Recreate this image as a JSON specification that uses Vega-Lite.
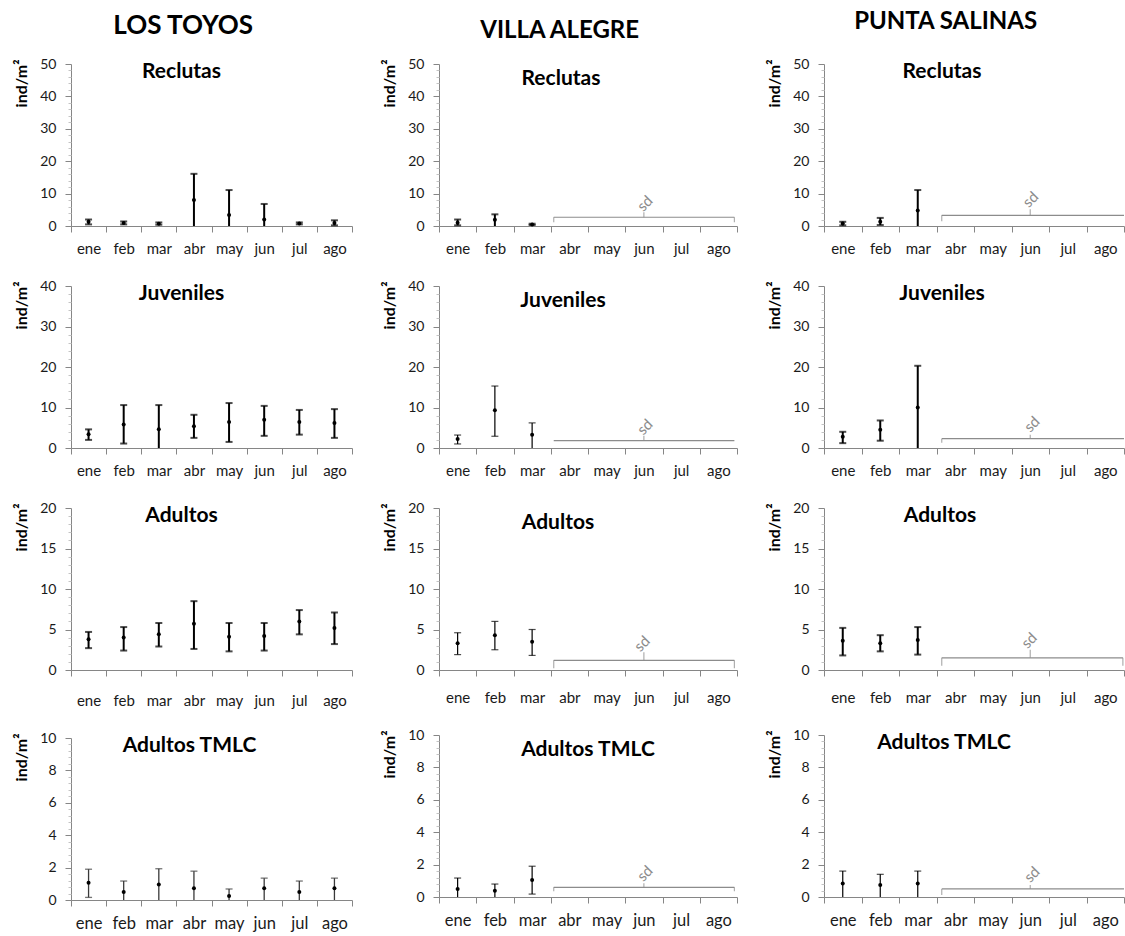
{
  "$schema": "https://vega.github.io/schema/vega-lite/v6.json",
  "background": "white",
  "padding": {"left": 13, "top": 10, "right": 0, "bottom": 0},
  "spacing": 28,
  "datasets": {
    "obs": [
      {"site": "Los Toyos", "stage": "Reclutas", "month": "ene", "mean": 1.3, "lo": 0.5, "hi": 2.0},
      {"site": "Los Toyos", "stage": "Reclutas", "month": "feb", "mean": 0.9, "lo": 0.5, "hi": 1.4},
      {"site": "Los Toyos", "stage": "Reclutas", "month": "mar", "mean": 0.7, "lo": 0.4, "hi": 1.1},
      {"site": "Los Toyos", "stage": "Reclutas", "month": "abr", "mean": 8.0, "lo": 0, "hi": 16.1},
      {"site": "Los Toyos", "stage": "Reclutas", "month": "may", "mean": 3.4, "lo": 0, "hi": 11.1},
      {"site": "Los Toyos", "stage": "Reclutas", "month": "jun", "mean": 2.0, "lo": 0, "hi": 6.8},
      {"site": "Los Toyos", "stage": "Reclutas", "month": "jul", "mean": 0.8, "lo": 0.5, "hi": 1.1},
      {"site": "Los Toyos", "stage": "Reclutas", "month": "ago", "mean": 0.9, "lo": 0.2, "hi": 1.75},
      {"site": "Los Toyos", "stage": "Juveniles", "month": "ene", "mean": 3.4, "lo": 2.0, "hi": 4.6},
      {"site": "Los Toyos", "stage": "Juveniles", "month": "feb", "mean": 5.8, "lo": 1.1, "hi": 10.6},
      {"site": "Los Toyos", "stage": "Juveniles", "month": "mar", "mean": 4.6, "lo": 0, "hi": 10.6},
      {"site": "Los Toyos", "stage": "Juveniles", "month": "abr", "mean": 5.4, "lo": 2.5, "hi": 8.2},
      {"site": "Los Toyos", "stage": "Juveniles", "month": "may", "mean": 6.4, "lo": 1.5, "hi": 11.1},
      {"site": "Los Toyos", "stage": "Juveniles", "month": "jun", "mean": 7.0, "lo": 3.0, "hi": 10.4},
      {"site": "Los Toyos", "stage": "Juveniles", "month": "jul", "mean": 6.4, "lo": 3.3, "hi": 9.4},
      {"site": "Los Toyos", "stage": "Juveniles", "month": "ago", "mean": 6.2, "lo": 2.5, "hi": 9.6},
      {"site": "Los Toyos", "stage": "Adultos", "month": "ene", "mean": 3.8, "lo": 2.7, "hi": 4.7},
      {"site": "Los Toyos", "stage": "Adultos", "month": "feb", "mean": 4.0, "lo": 2.4, "hi": 5.3},
      {"site": "Los Toyos", "stage": "Adultos", "month": "mar", "mean": 4.4, "lo": 2.9, "hi": 5.8},
      {"site": "Los Toyos", "stage": "Adultos", "month": "abr", "mean": 5.7, "lo": 2.6, "hi": 8.5},
      {"site": "Los Toyos", "stage": "Adultos", "month": "may", "mean": 4.1, "lo": 2.3, "hi": 5.8},
      {"site": "Los Toyos", "stage": "Adultos", "month": "jun", "mean": 4.2, "lo": 2.4, "hi": 5.8},
      {"site": "Los Toyos", "stage": "Adultos", "month": "jul", "mean": 6.0, "lo": 4.4, "hi": 7.4},
      {"site": "Los Toyos", "stage": "Adultos", "month": "ago", "mean": 5.2, "lo": 3.2, "hi": 7.1},
      {"site": "Los Toyos", "stage": "Adultos TMLC", "month": "ene", "mean": 1.07, "lo": 0.16, "hi": 1.9},
      {"site": "Los Toyos", "stage": "Adultos TMLC", "month": "feb", "mean": 0.5, "lo": 0, "hi": 1.17},
      {"site": "Los Toyos", "stage": "Adultos TMLC", "month": "mar", "mean": 0.95, "lo": 0, "hi": 1.93},
      {"site": "Los Toyos", "stage": "Adultos TMLC", "month": "abr", "mean": 0.72, "lo": 0, "hi": 1.78},
      {"site": "Los Toyos", "stage": "Adultos TMLC", "month": "may", "mean": 0.25, "lo": 0, "hi": 0.68},
      {"site": "Los Toyos", "stage": "Adultos TMLC", "month": "jun", "mean": 0.72, "lo": 0, "hi": 1.35},
      {"site": "Los Toyos", "stage": "Adultos TMLC", "month": "jul", "mean": 0.5, "lo": 0, "hi": 1.17},
      {"site": "Los Toyos", "stage": "Adultos TMLC", "month": "ago", "mean": 0.72, "lo": 0, "hi": 1.35},
      {"site": "Villa Alegre", "stage": "Reclutas", "month": "ene", "mean": 1.0, "lo": 0.2, "hi": 2.0},
      {"site": "Villa Alegre", "stage": "Reclutas", "month": "feb", "mean": 1.9, "lo": 0, "hi": 3.6},
      {"site": "Villa Alegre", "stage": "Reclutas", "month": "mar", "mean": 0.5, "lo": 0.3, "hi": 0.7},
      {"site": "Villa Alegre", "stage": "Juveniles", "month": "ene", "mean": 2.2, "lo": 1.0, "hi": 3.2},
      {"site": "Villa Alegre", "stage": "Juveniles", "month": "feb", "mean": 9.3, "lo": 2.9, "hi": 15.3},
      {"site": "Villa Alegre", "stage": "Juveniles", "month": "mar", "mean": 3.3, "lo": 0, "hi": 6.2},
      {"site": "Villa Alegre", "stage": "Adultos", "month": "ene", "mean": 3.3, "lo": 1.9, "hi": 4.6},
      {"site": "Villa Alegre", "stage": "Adultos", "month": "feb", "mean": 4.3, "lo": 2.5, "hi": 6.0},
      {"site": "Villa Alegre", "stage": "Adultos", "month": "mar", "mean": 3.5, "lo": 1.8, "hi": 5.0},
      {"site": "Villa Alegre", "stage": "Adultos TMLC", "month": "ene", "mean": 0.49, "lo": 0, "hi": 1.17},
      {"site": "Villa Alegre", "stage": "Adultos TMLC", "month": "feb", "mean": 0.39, "lo": 0, "hi": 0.8},
      {"site": "Villa Alegre", "stage": "Adultos TMLC", "month": "mar", "mean": 1.05, "lo": 0.18, "hi": 1.9},
      {"site": "Punta Salinas", "stage": "Reclutas", "month": "ene", "mean": 0.8, "lo": 0.2, "hi": 1.3},
      {"site": "Punta Salinas", "stage": "Reclutas", "month": "feb", "mean": 1.3, "lo": 0.3, "hi": 2.5},
      {"site": "Punta Salinas", "stage": "Reclutas", "month": "mar", "mean": 4.8, "lo": 0, "hi": 11.1},
      {"site": "Punta Salinas", "stage": "Juveniles", "month": "ene", "mean": 2.8, "lo": 1.2, "hi": 4.0},
      {"site": "Punta Salinas", "stage": "Juveniles", "month": "feb", "mean": 4.5, "lo": 1.8, "hi": 6.8},
      {"site": "Punta Salinas", "stage": "Juveniles", "month": "mar", "mean": 10.0, "lo": 0, "hi": 20.3},
      {"site": "Punta Salinas", "stage": "Adultos", "month": "ene", "mean": 3.6, "lo": 1.8, "hi": 5.2},
      {"site": "Punta Salinas", "stage": "Adultos", "month": "feb", "mean": 3.3, "lo": 2.3, "hi": 4.3},
      {"site": "Punta Salinas", "stage": "Adultos", "month": "mar", "mean": 3.7, "lo": 1.9, "hi": 5.3},
      {"site": "Punta Salinas", "stage": "Adultos TMLC", "month": "ene", "mean": 0.84, "lo": 0, "hi": 1.6},
      {"site": "Punta Salinas", "stage": "Adultos TMLC", "month": "feb", "mean": 0.74, "lo": 0, "hi": 1.4},
      {"site": "Punta Salinas", "stage": "Adultos TMLC", "month": "mar", "mean": 0.84, "lo": 0, "hi": 1.6}
    ],
    "sd": [
      {"site": "Villa Alegre", "stage": "Reclutas", "from": "abr", "to": "ago", "mid": "jun", "level": 2.7, "label": "sd"},
      {"site": "Villa Alegre", "stage": "Juveniles", "from": "abr", "to": "ago", "mid": "jun", "level": 1.8, "label": "sd"},
      {"site": "Villa Alegre", "stage": "Adultos", "from": "abr", "to": "ago", "mid": "jun", "level": 1.2, "label": "sd"},
      {"site": "Villa Alegre", "stage": "Adultos TMLC", "from": "abr", "to": "ago", "mid": "jun", "level": 0.6, "label": "sd"},
      {"site": "Punta Salinas", "stage": "Reclutas", "from": "abr", "to": "ago", "mid": "jun", "level": 3.3, "label": "sd"},
      {"site": "Punta Salinas", "stage": "Juveniles", "from": "abr", "to": "ago", "mid": "jun", "level": 2.3, "label": "sd"},
      {"site": "Punta Salinas", "stage": "Adultos", "from": "abr", "to": "ago", "mid": "jun", "level": 1.5, "label": "sd"},
      {"site": "Punta Salinas", "stage": "Adultos TMLC", "from": "abr", "to": "ago", "mid": "jun", "level": 0.5, "label": "sd"}
    ]
  },
  "config": {
    "font": "Lato",
    "view": {"stroke": null},
    "axis": {"grid": false, "domainColor": "#868686", "tickColor": "#868686", "labelColor": "#1a1a1a", "labelFont": "Lato", "labelFontSize": 14, "titleFont": "Lato", "titleColor": "#000000"},
    "axisX": {"tickBand": "extent", "labelAngle": 0, "tickSize": 6, "labelPadding": 9, "labelFontSize": 15},
    "axisY": {"titleFontSize": 16, "titleFontWeight": "bold", "titleAnchor": "end", "titleY": -5, "titlePadding": 10, "labelPadding": 9, "tickSize": 6},
    "title": {"font": "Lato", "fontSize": 21, "fontWeight": "bold", "color": "#000000", "anchor": "middle", "baseline": "bottom"},
    "tick": {"color": "#000000"},
    "rule": {"color": "#000000"}
  },
  "hconcat": [
    {
      "title": {"text": "LOS TOYOS", "fontSize": 26, "offset": 18},
      "spacing": 23,
      "vconcat": [
        {
          "width": 281, "height": 162,
          "title": {"text": "Reclutas", "offset": -25, "dx": -30},
          "data": {"name": "obs"},
          "transform": [{"filter": "datum.site === 'Los Toyos' && datum.stage === 'Reclutas'"}],
          "resolve": {"axis": {"y": "independent"}},
          "encoding": {"x": {"field": "month", "type": "ordinal", "title": null, "scale": {"domain": ["ene", "feb", "mar", "abr", "may", "jun", "jul", "ago"]}}},
          "layer": [
            {"mark": {"type": "rule", "strokeWidth": 2}, "encoding": {"y": {"field": "lo", "type": "quantitative", "title": "ind/m²", "scale": {"domain": [0, 50], "nice": false}, "axis": {"orient": "left", "values": [0, 10, 20, 30, 40, 50]}}, "y2": {"field": "hi"}}},
            {"mark": {"type": "tick", "thickness": 2, "size": 7}, "encoding": {"y": {"field": "hi", "type": "quantitative", "axis": null}}},
            {"transform": [{"filter": "datum.lo > 0"}], "mark": {"type": "tick", "thickness": 2, "size": 7}, "encoding": {"y": {"field": "lo", "type": "quantitative", "axis": null}}},
            {"mark": {"type": "point", "filled": true, "color": "#000000", "opacity": 1, "size": 16}, "encoding": {"y": {"field": "mean", "type": "quantitative", "axis": {"orient": "left", "title": null, "labels": false, "domain": false, "tickSize": 3, "tickColor": "#c4c4c4", "values": [2,4,6,8,12,14,16,18,22,24,26,28,32,34,36,38,42,44,46,48]}}}}
          ]
        },
        {
          "width": 281, "height": 162,
          "title": {"text": "Juveniles", "offset": -25, "dx": -30},
          "data": {"name": "obs"},
          "transform": [{"filter": "datum.site === 'Los Toyos' && datum.stage === 'Juveniles'"}],
          "resolve": {"axis": {"y": "independent"}},
          "encoding": {"x": {"field": "month", "type": "ordinal", "title": null, "scale": {"domain": ["ene", "feb", "mar", "abr", "may", "jun", "jul", "ago"]}}},
          "layer": [
            {"mark": {"type": "rule", "strokeWidth": 2}, "encoding": {"y": {"field": "lo", "type": "quantitative", "title": "ind/m²", "scale": {"domain": [0, 40], "nice": false}, "axis": {"orient": "left", "values": [0, 10, 20, 30, 40]}}, "y2": {"field": "hi"}}},
            {"mark": {"type": "tick", "thickness": 2, "size": 7}, "encoding": {"y": {"field": "hi", "type": "quantitative", "axis": null}}},
            {"transform": [{"filter": "datum.lo > 0"}], "mark": {"type": "tick", "thickness": 2, "size": 7}, "encoding": {"y": {"field": "lo", "type": "quantitative", "axis": null}}},
            {"mark": {"type": "point", "filled": true, "color": "#000000", "opacity": 1, "size": 16}, "encoding": {"y": {"field": "mean", "type": "quantitative", "axis": {"orient": "left", "title": null, "labels": false, "domain": false, "tickSize": 3, "tickColor": "#c4c4c4", "values": [2,4,6,8,12,14,16,18,22,24,26,28,32,34,36,38]}}}}
          ]
        },
        {
          "width": 281, "height": 162,
          "title": {"text": "Adultos", "offset": -25, "dx": -30},
          "data": {"name": "obs"},
          "transform": [{"filter": "datum.site === 'Los Toyos' && datum.stage === 'Adultos'"}],
          "resolve": {"axis": {"y": "independent"}},
          "encoding": {"x": {"field": "month", "type": "ordinal", "title": null, "scale": {"domain": ["ene", "feb", "mar", "abr", "may", "jun", "jul", "ago"]}, "axis": {"labelPadding": 17}}},
          "layer": [
            {"mark": {"type": "rule", "strokeWidth": 2}, "encoding": {"y": {"field": "lo", "type": "quantitative", "title": "ind/m²", "scale": {"domain": [0, 20], "nice": false}, "axis": {"orient": "left", "values": [0, 5, 10, 15, 20]}}, "y2": {"field": "hi"}}},
            {"mark": {"type": "tick", "thickness": 2, "size": 7}, "encoding": {"y": {"field": "hi", "type": "quantitative", "axis": null}}},
            {"transform": [{"filter": "datum.lo > 0"}], "mark": {"type": "tick", "thickness": 2, "size": 7}, "encoding": {"y": {"field": "lo", "type": "quantitative", "axis": null}}},
            {"mark": {"type": "point", "filled": true, "color": "#000000", "opacity": 1, "size": 16}, "encoding": {"y": {"field": "mean", "type": "quantitative", "axis": {"orient": "left", "title": null, "labels": false, "domain": false, "tickSize": 3, "tickColor": "#c4c4c4", "values": [1,2,3,4,6,7,8,9,11,12,13,14,16,17,18,19]}}}}
          ]
        },
        {
          "width": 281, "height": 162,
          "title": {"text": "Adultos TMLC", "offset": -25, "dx": -22},
          "data": {"name": "obs"},
          "transform": [{"filter": "datum.site === 'Los Toyos' && datum.stage === 'Adultos TMLC'"}],
          "resolve": {"axis": {"y": "independent"}},
          "encoding": {"x": {"field": "month", "type": "ordinal", "title": null, "scale": {"domain": ["ene", "feb", "mar", "abr", "may", "jun", "jul", "ago"]}, "axis": {"labelFontSize": 16.5}}},
          "layer": [
            {"mark": {"type": "rule", "strokeWidth": 1.3, "color": "#3a3a3a"}, "encoding": {"y": {"field": "lo", "type": "quantitative", "title": "ind/m²", "scale": {"domain": [0, 10], "nice": false}, "axis": {"orient": "left", "values": [0, 2, 4, 6, 8, 10]}}, "y2": {"field": "hi"}}},
            {"mark": {"type": "tick", "thickness": 1.3, "size": 7, "color": "#3a3a3a"}, "encoding": {"y": {"field": "hi", "type": "quantitative", "axis": null}}},
            {"transform": [{"filter": "datum.lo > 0"}], "mark": {"type": "tick", "thickness": 1.3, "size": 7, "color": "#3a3a3a"}, "encoding": {"y": {"field": "lo", "type": "quantitative", "axis": null}}},
            {"mark": {"type": "point", "filled": true, "color": "#000000", "opacity": 1, "size": 16}, "encoding": {"y": {"field": "mean", "type": "quantitative", "axis": {"orient": "left", "title": null, "labels": false, "domain": false, "tickSize": 3, "tickColor": "#c4c4c4", "values": [0.4,0.8,1.2,1.6,2.4,2.8,3.2,3.6,4.4,4.8,5.2,5.6,6.4,6.8,7.2,7.6,8.4,8.8,9.2,9.6]}}}}
          ]
        }
      ]
    },
    {
      "title": {"text": "VILLA ALEGRE", "fontSize": 24, "offset": 14},
      "spacing": 23,
      "vconcat": [
        {
          "width": 298, "height": 162,
          "title": {"text": "Reclutas", "offset": -32, "dx": -27},
          "resolve": {"axis": {"y": "independent"}},
          "encoding": {"x": {"field": "month", "type": "ordinal", "title": null, "scale": {"domain": ["ene", "feb", "mar", "abr", "may", "jun", "jul", "ago"]}}},
          "layer": [
            {"data": {"name": "obs"}, "transform": [{"filter": "datum.site === 'Villa Alegre' && datum.stage === 'Reclutas'"}], "mark": {"type": "rule", "strokeWidth": 2}, "encoding": {"y": {"field": "lo", "type": "quantitative", "title": "ind/m²", "scale": {"domain": [0, 50], "nice": false}, "axis": {"orient": "left", "values": [0, 10, 20, 30, 40, 50]}}, "y2": {"field": "hi"}}},
            {"data": {"name": "obs"}, "transform": [{"filter": "datum.site === 'Villa Alegre' && datum.stage === 'Reclutas'"}], "mark": {"type": "tick", "thickness": 2, "size": 7}, "encoding": {"y": {"field": "hi", "type": "quantitative", "axis": null}}},
            {"data": {"name": "obs"}, "transform": [{"filter": "datum.site === 'Villa Alegre' && datum.stage === 'Reclutas' && datum.lo > 0"}], "mark": {"type": "tick", "thickness": 2, "size": 7}, "encoding": {"y": {"field": "lo", "type": "quantitative", "axis": null}}},
            {"data": {"name": "obs"}, "transform": [{"filter": "datum.site === 'Villa Alegre' && datum.stage === 'Reclutas'"}], "mark": {"type": "point", "filled": true, "color": "#000000", "opacity": 1, "size": 16}, "encoding": {"y": {"field": "mean", "type": "quantitative", "axis": {"orient": "left", "title": null, "labels": false, "domain": false, "tickSize": 3, "tickColor": "#c4c4c4", "values": [2,4,6,8,12,14,16,18,22,24,26,28,32,34,36,38,42,44,46,48]}}}},
            {"data": {"name": "sd"}, "transform": [{"filter": "datum.site === 'Villa Alegre' && datum.stage === 'Reclutas'"}], "mark": {"type": "rule", "color": "#8c8c8c", "strokeWidth": 1.2}, "encoding": {"x": {"field": "from", "type": "ordinal", "title": null, "bandPosition": 0.08}, "x2": {"field": "to", "bandPosition": 0.93}, "y": {"field": "level", "type": "quantitative", "axis": null}}},
            {"data": {"name": "sd"}, "transform": [{"filter": "datum.site === 'Villa Alegre' && datum.stage === 'Reclutas'"}], "mark": {"type": "tick", "orient": "vertical", "color": "#8c8c8c", "thickness": 1.2, "size": 5, "yOffset": 2.5}, "encoding": {"x": {"field": "from", "type": "ordinal", "title": null, "bandPosition": 0.08}, "y": {"field": "level", "type": "quantitative", "axis": null}}},
            {"data": {"name": "sd"}, "transform": [{"filter": "datum.site === 'Villa Alegre' && datum.stage === 'Reclutas'"}], "mark": {"type": "tick", "orient": "vertical", "color": "#8c8c8c", "thickness": 1.2, "size": 5, "yOffset": 2.5}, "encoding": {"x": {"field": "to", "type": "ordinal", "title": null, "bandPosition": 0.93}, "y": {"field": "level", "type": "quantitative", "axis": null}}},
            {"data": {"name": "sd"}, "transform": [{"filter": "datum.site === 'Villa Alegre' && datum.stage === 'Reclutas'"}], "mark": {"type": "tick", "orient": "vertical", "color": "#8c8c8c", "thickness": 1.2, "size": 5, "yOffset": -2.5}, "encoding": {"x": {"field": "mid", "type": "ordinal", "title": null}, "y": {"field": "level", "type": "quantitative", "axis": null}}},
            {"data": {"name": "sd"}, "transform": [{"filter": "datum.site === 'Villa Alegre' && datum.stage === 'Reclutas'"}], "mark": {"type": "text", "color": "#8c8c8c", "fontSize": 15, "angle": -45, "align": "left", "baseline": "middle", "dx": 3, "dy": -9}, "encoding": {"x": {"field": "mid", "type": "ordinal", "title": null}, "y": {"field": "level", "type": "quantitative", "axis": null}, "text": {"field": "label"}}}
          ]
        },
        {
          "width": 298, "height": 162,
          "title": {"text": "Juveniles", "offset": -32, "dx": -25},
          "resolve": {"axis": {"y": "independent"}},
          "encoding": {"x": {"field": "month", "type": "ordinal", "title": null, "scale": {"domain": ["ene", "feb", "mar", "abr", "may", "jun", "jul", "ago"]}}},
          "layer": [
            {"data": {"name": "obs"}, "transform": [{"filter": "datum.site === 'Villa Alegre' && datum.stage === 'Juveniles'"}], "mark": {"type": "rule", "strokeWidth": 1.2}, "encoding": {"y": {"field": "lo", "type": "quantitative", "title": "ind/m²", "scale": {"domain": [0, 40], "nice": false}, "axis": {"orient": "left", "values": [0, 10, 20, 30, 40]}}, "y2": {"field": "hi"}}},
            {"data": {"name": "obs"}, "transform": [{"filter": "datum.site === 'Villa Alegre' && datum.stage === 'Juveniles'"}], "mark": {"type": "tick", "thickness": 1.2, "size": 7}, "encoding": {"y": {"field": "hi", "type": "quantitative", "axis": null}}},
            {"data": {"name": "obs"}, "transform": [{"filter": "datum.site === 'Villa Alegre' && datum.stage === 'Juveniles' && datum.lo > 0"}], "mark": {"type": "tick", "thickness": 1.2, "size": 7}, "encoding": {"y": {"field": "lo", "type": "quantitative", "axis": null}}},
            {"data": {"name": "obs"}, "transform": [{"filter": "datum.site === 'Villa Alegre' && datum.stage === 'Juveniles'"}], "mark": {"type": "point", "filled": true, "color": "#000000", "opacity": 1, "size": 16}, "encoding": {"y": {"field": "mean", "type": "quantitative", "axis": {"orient": "left", "title": null, "labels": false, "domain": false, "tickSize": 3, "tickColor": "#c4c4c4", "values": [2,4,6,8,12,14,16,18,22,24,26,28,32,34,36,38]}}}},
            {"data": {"name": "sd"}, "transform": [{"filter": "datum.site === 'Villa Alegre' && datum.stage === 'Juveniles'"}], "mark": {"type": "rule", "color": "#8c8c8c", "strokeWidth": 1.2}, "encoding": {"x": {"field": "from", "type": "ordinal", "title": null, "bandPosition": 0.08}, "x2": {"field": "to", "bandPosition": 0.93}, "y": {"field": "level", "type": "quantitative", "axis": null}}},
            {"data": {"name": "sd"}, "transform": [{"filter": "datum.site === 'Villa Alegre' && datum.stage === 'Juveniles'"}], "mark": {"type": "tick", "orient": "vertical", "color": "#8c8c8c", "thickness": 1.2, "size": 5, "yOffset": -2.5}, "encoding": {"x": {"field": "mid", "type": "ordinal", "title": null}, "y": {"field": "level", "type": "quantitative", "axis": null}}},
            {"data": {"name": "sd"}, "transform": [{"filter": "datum.site === 'Villa Alegre' && datum.stage === 'Juveniles'"}], "mark": {"type": "text", "color": "#8c8c8c", "fontSize": 15, "angle": -45, "align": "left", "baseline": "middle", "dx": 3, "dy": -9}, "encoding": {"x": {"field": "mid", "type": "ordinal", "title": null}, "y": {"field": "level", "type": "quantitative", "axis": null}, "text": {"field": "label"}}}
          ]
        },
        {
          "width": 298, "height": 162,
          "title": {"text": "Adultos", "offset": -32, "dx": -30},
          "resolve": {"axis": {"y": "independent"}},
          "encoding": {"x": {"field": "month", "type": "ordinal", "title": null, "scale": {"domain": ["ene", "feb", "mar", "abr", "may", "jun", "jul", "ago"]}, "axis": {"labelPadding": 14}}},
          "layer": [
            {"data": {"name": "obs"}, "transform": [{"filter": "datum.site === 'Villa Alegre' && datum.stage === 'Adultos'"}], "mark": {"type": "rule", "strokeWidth": 1.2}, "encoding": {"y": {"field": "lo", "type": "quantitative", "title": "ind/m²", "scale": {"domain": [0, 20], "nice": false}, "axis": {"orient": "left", "values": [0, 5, 10, 15, 20]}}, "y2": {"field": "hi"}}},
            {"data": {"name": "obs"}, "transform": [{"filter": "datum.site === 'Villa Alegre' && datum.stage === 'Adultos'"}], "mark": {"type": "tick", "thickness": 1.2, "size": 7}, "encoding": {"y": {"field": "hi", "type": "quantitative", "axis": null}}},
            {"data": {"name": "obs"}, "transform": [{"filter": "datum.site === 'Villa Alegre' && datum.stage === 'Adultos' && datum.lo > 0"}], "mark": {"type": "tick", "thickness": 1.2, "size": 7}, "encoding": {"y": {"field": "lo", "type": "quantitative", "axis": null}}},
            {"data": {"name": "obs"}, "transform": [{"filter": "datum.site === 'Villa Alegre' && datum.stage === 'Adultos'"}], "mark": {"type": "point", "filled": true, "color": "#000000", "opacity": 1, "size": 16}, "encoding": {"y": {"field": "mean", "type": "quantitative", "axis": {"orient": "left", "title": null, "labels": false, "domain": false, "tickSize": 3, "tickColor": "#c4c4c4", "values": [1,2,3,4,6,7,8,9,11,12,13,14,16,17,18,19]}}}},
            {"data": {"name": "sd"}, "transform": [{"filter": "datum.site === 'Villa Alegre' && datum.stage === 'Adultos'"}], "mark": {"type": "rule", "color": "#8c8c8c", "strokeWidth": 1.2}, "encoding": {"x": {"field": "from", "type": "ordinal", "title": null, "bandPosition": 0.08}, "x2": {"field": "to", "bandPosition": 0.93}, "y": {"field": "level", "type": "quantitative", "axis": null}}},
            {"data": {"name": "sd"}, "transform": [{"filter": "datum.site === 'Villa Alegre' && datum.stage === 'Adultos'"}], "mark": {"type": "tick", "orient": "vertical", "color": "#8c8c8c", "thickness": 1.2, "size": 8, "yOffset": 4}, "encoding": {"x": {"field": "from", "type": "ordinal", "title": null, "bandPosition": 0.08}, "y": {"field": "level", "type": "quantitative", "axis": null}}},
            {"data": {"name": "sd"}, "transform": [{"filter": "datum.site === 'Villa Alegre' && datum.stage === 'Adultos'"}], "mark": {"type": "tick", "orient": "vertical", "color": "#8c8c8c", "thickness": 1.2, "size": 8, "yOffset": 4}, "encoding": {"x": {"field": "to", "type": "ordinal", "title": null, "bandPosition": 0.93}, "y": {"field": "level", "type": "quantitative", "axis": null}}},
            {"data": {"name": "sd"}, "transform": [{"filter": "datum.site === 'Villa Alegre' && datum.stage === 'Adultos'"}], "mark": {"type": "tick", "orient": "vertical", "color": "#8c8c8c", "thickness": 1.2, "size": 8, "yOffset": -4}, "encoding": {"x": {"field": "mid", "type": "ordinal", "title": null}, "y": {"field": "level", "type": "quantitative", "axis": null}}},
            {"data": {"name": "sd"}, "transform": [{"filter": "datum.site === 'Villa Alegre' && datum.stage === 'Adultos'"}], "mark": {"type": "text", "color": "#8c8c8c", "fontSize": 15, "angle": -45, "align": "left", "baseline": "middle", "dx": 3, "dy": -13}, "encoding": {"x": {"field": "mid", "type": "ordinal", "title": null}, "y": {"field": "level", "type": "quantitative", "axis": null}, "text": {"field": "label"}}}
          ]
        },
        {
          "width": 298, "height": 162,
          "title": {"text": "Adultos TMLC", "offset": -32, "dx": 0},
          "resolve": {"axis": {"y": "independent"}},
          "encoding": {"x": {"field": "month", "type": "ordinal", "title": null, "scale": {"domain": ["ene", "feb", "mar", "abr", "may", "jun", "jul", "ago"]}, "axis": {"labelFontSize": 16.5}}},
          "layer": [
            {"data": {"name": "obs"}, "transform": [{"filter": "datum.site === 'Villa Alegre' && datum.stage === 'Adultos TMLC'"}], "mark": {"type": "rule", "strokeWidth": 1.2}, "encoding": {"y": {"field": "lo", "type": "quantitative", "title": "ind/m²", "scale": {"domain": [0, 10], "nice": false}, "axis": {"orient": "left", "values": [0, 2, 4, 6, 8, 10]}}, "y2": {"field": "hi"}}},
            {"data": {"name": "obs"}, "transform": [{"filter": "datum.site === 'Villa Alegre' && datum.stage === 'Adultos TMLC'"}], "mark": {"type": "tick", "thickness": 1.2, "size": 7}, "encoding": {"y": {"field": "hi", "type": "quantitative", "axis": null}}},
            {"data": {"name": "obs"}, "transform": [{"filter": "datum.site === 'Villa Alegre' && datum.stage === 'Adultos TMLC' && datum.lo > 0"}], "mark": {"type": "tick", "thickness": 1.2, "size": 7}, "encoding": {"y": {"field": "lo", "type": "quantitative", "axis": null}}},
            {"data": {"name": "obs"}, "transform": [{"filter": "datum.site === 'Villa Alegre' && datum.stage === 'Adultos TMLC'"}], "mark": {"type": "point", "filled": true, "color": "#000000", "opacity": 1, "size": 16}, "encoding": {"y": {"field": "mean", "type": "quantitative", "axis": {"orient": "left", "title": null, "labels": false, "domain": false, "tickSize": 3, "tickColor": "#c4c4c4", "values": [0.4,0.8,1.2,1.6,2.4,2.8,3.2,3.6,4.4,4.8,5.2,5.6,6.4,6.8,7.2,7.6,8.4,8.8,9.2,9.6]}}}},
            {"data": {"name": "sd"}, "transform": [{"filter": "datum.site === 'Villa Alegre' && datum.stage === 'Adultos TMLC'"}], "mark": {"type": "rule", "color": "#8c8c8c", "strokeWidth": 1.2}, "encoding": {"x": {"field": "from", "type": "ordinal", "title": null, "bandPosition": 0.08}, "x2": {"field": "to", "bandPosition": 0.93}, "y": {"field": "level", "type": "quantitative", "axis": null}}},
            {"data": {"name": "sd"}, "transform": [{"filter": "datum.site === 'Villa Alegre' && datum.stage === 'Adultos TMLC'"}], "mark": {"type": "tick", "orient": "vertical", "color": "#8c8c8c", "thickness": 1.2, "size": 4, "yOffset": 2}, "encoding": {"x": {"field": "from", "type": "ordinal", "title": null, "bandPosition": 0.08}, "y": {"field": "level", "type": "quantitative", "axis": null}}},
            {"data": {"name": "sd"}, "transform": [{"filter": "datum.site === 'Villa Alegre' && datum.stage === 'Adultos TMLC'"}], "mark": {"type": "tick", "orient": "vertical", "color": "#8c8c8c", "thickness": 1.2, "size": 4, "yOffset": 2}, "encoding": {"x": {"field": "to", "type": "ordinal", "title": null, "bandPosition": 0.93}, "y": {"field": "level", "type": "quantitative", "axis": null}}},
            {"data": {"name": "sd"}, "transform": [{"filter": "datum.site === 'Villa Alegre' && datum.stage === 'Adultos TMLC'"}], "mark": {"type": "tick", "orient": "vertical", "color": "#8c8c8c", "thickness": 1.2, "size": 4, "yOffset": -2}, "encoding": {"x": {"field": "mid", "type": "ordinal", "title": null}, "y": {"field": "level", "type": "quantitative", "axis": null}}},
            {"data": {"name": "sd"}, "transform": [{"filter": "datum.site === 'Villa Alegre' && datum.stage === 'Adultos TMLC'"}], "mark": {"type": "text", "color": "#8c8c8c", "fontSize": 15, "angle": -45, "align": "left", "baseline": "middle", "dx": 3, "dy": -9}, "encoding": {"x": {"field": "mid", "type": "ordinal", "title": null}, "y": {"field": "level", "type": "quantitative", "axis": null}, "text": {"field": "label"}}}
          ]
        }
      ]
    },
    {
      "title": {"text": "PUNTA SALINAS", "fontSize": 24, "offset": 23},
      "spacing": 23,
      "vconcat": [
        {
          "width": 300, "height": 162,
          "title": {"text": "Reclutas", "offset": -25, "dx": -32},
          "resolve": {"axis": {"y": "independent"}},
          "encoding": {"x": {"field": "month", "type": "ordinal", "title": null, "scale": {"domain": ["ene", "feb", "mar", "abr", "may", "jun", "jul", "ago"]}}},
          "layer": [
            {"data": {"name": "obs"}, "transform": [{"filter": "datum.site === 'Punta Salinas' && datum.stage === 'Reclutas'"}], "mark": {"type": "rule", "strokeWidth": 2}, "encoding": {"y": {"field": "lo", "type": "quantitative", "title": "ind/m²", "scale": {"domain": [0, 50], "nice": false}, "axis": {"orient": "left", "values": [0, 10, 20, 30, 40, 50]}}, "y2": {"field": "hi"}}},
            {"data": {"name": "obs"}, "transform": [{"filter": "datum.site === 'Punta Salinas' && datum.stage === 'Reclutas'"}], "mark": {"type": "tick", "thickness": 2, "size": 7}, "encoding": {"y": {"field": "hi", "type": "quantitative", "axis": null}}},
            {"data": {"name": "obs"}, "transform": [{"filter": "datum.site === 'Punta Salinas' && datum.stage === 'Reclutas' && datum.lo > 0"}], "mark": {"type": "tick", "thickness": 2, "size": 7}, "encoding": {"y": {"field": "lo", "type": "quantitative", "axis": null}}},
            {"data": {"name": "obs"}, "transform": [{"filter": "datum.site === 'Punta Salinas' && datum.stage === 'Reclutas'"}], "mark": {"type": "point", "filled": true, "color": "#000000", "opacity": 1, "size": 16}, "encoding": {"y": {"field": "mean", "type": "quantitative", "axis": {"orient": "left", "title": null, "labels": false, "domain": false, "tickSize": 3, "tickColor": "#c4c4c4", "values": [2,4,6,8,12,14,16,18,22,24,26,28,32,34,36,38,42,44,46,48]}}}},
            {"data": {"name": "sd"}, "transform": [{"filter": "datum.site === 'Punta Salinas' && datum.stage === 'Reclutas'"}], "mark": {"type": "rule", "color": "#8c8c8c", "strokeWidth": 1.2}, "encoding": {"x": {"field": "from", "type": "ordinal", "title": null, "bandPosition": 0.14}, "x2": {"field": "to", "bandPosition": 1}, "y": {"field": "level", "type": "quantitative", "axis": null}}},
            {"data": {"name": "sd"}, "transform": [{"filter": "datum.site === 'Punta Salinas' && datum.stage === 'Reclutas'"}], "mark": {"type": "tick", "orient": "vertical", "color": "#8c8c8c", "thickness": 1.2, "size": 6, "yOffset": 3}, "encoding": {"x": {"field": "from", "type": "ordinal", "title": null, "bandPosition": 0.14}, "y": {"field": "level", "type": "quantitative", "axis": null}}},
            {"data": {"name": "sd"}, "transform": [{"filter": "datum.site === 'Punta Salinas' && datum.stage === 'Reclutas'"}], "mark": {"type": "tick", "orient": "vertical", "color": "#8c8c8c", "thickness": 1.2, "size": 6, "yOffset": -3}, "encoding": {"x": {"field": "mid", "type": "ordinal", "title": null}, "y": {"field": "level", "type": "quantitative", "axis": null}}},
            {"data": {"name": "sd"}, "transform": [{"filter": "datum.site === 'Punta Salinas' && datum.stage === 'Reclutas'"}], "mark": {"type": "text", "color": "#8c8c8c", "fontSize": 15, "angle": -45, "align": "left", "baseline": "middle", "dx": 4, "dy": -11}, "encoding": {"x": {"field": "mid", "type": "ordinal", "title": null}, "y": {"field": "level", "type": "quantitative", "axis": null}, "text": {"field": "label"}}}
          ]
        },
        {
          "width": 300, "height": 162,
          "title": {"text": "Juveniles", "offset": -25, "dx": -32},
          "resolve": {"axis": {"y": "independent"}},
          "encoding": {"x": {"field": "month", "type": "ordinal", "title": null, "scale": {"domain": ["ene", "feb", "mar", "abr", "may", "jun", "jul", "ago"]}}},
          "layer": [
            {"data": {"name": "obs"}, "transform": [{"filter": "datum.site === 'Punta Salinas' && datum.stage === 'Juveniles'"}], "mark": {"type": "rule", "strokeWidth": 2}, "encoding": {"y": {"field": "lo", "type": "quantitative", "title": "ind/m²", "scale": {"domain": [0, 40], "nice": false}, "axis": {"orient": "left", "values": [0, 10, 20, 30, 40]}}, "y2": {"field": "hi"}}},
            {"data": {"name": "obs"}, "transform": [{"filter": "datum.site === 'Punta Salinas' && datum.stage === 'Juveniles'"}], "mark": {"type": "tick", "thickness": 2, "size": 7}, "encoding": {"y": {"field": "hi", "type": "quantitative", "axis": null}}},
            {"data": {"name": "obs"}, "transform": [{"filter": "datum.site === 'Punta Salinas' && datum.stage === 'Juveniles' && datum.lo > 0"}], "mark": {"type": "tick", "thickness": 2, "size": 7}, "encoding": {"y": {"field": "lo", "type": "quantitative", "axis": null}}},
            {"data": {"name": "obs"}, "transform": [{"filter": "datum.site === 'Punta Salinas' && datum.stage === 'Juveniles'"}], "mark": {"type": "point", "filled": true, "color": "#000000", "opacity": 1, "size": 16}, "encoding": {"y": {"field": "mean", "type": "quantitative", "axis": {"orient": "left", "title": null, "labels": false, "domain": false, "tickSize": 3, "tickColor": "#c4c4c4", "values": [2,4,6,8,12,14,16,18,22,24,26,28,32,34,36,38]}}}},
            {"data": {"name": "sd"}, "transform": [{"filter": "datum.site === 'Punta Salinas' && datum.stage === 'Juveniles'"}], "mark": {"type": "rule", "color": "#8c8c8c", "strokeWidth": 1.2}, "encoding": {"x": {"field": "from", "type": "ordinal", "title": null, "bandPosition": 0.14}, "x2": {"field": "to", "bandPosition": 1}, "y": {"field": "level", "type": "quantitative", "axis": null}}},
            {"data": {"name": "sd"}, "transform": [{"filter": "datum.site === 'Punta Salinas' && datum.stage === 'Juveniles'"}], "mark": {"type": "tick", "orient": "vertical", "color": "#8c8c8c", "thickness": 1.2, "size": 4, "yOffset": 2}, "encoding": {"x": {"field": "from", "type": "ordinal", "title": null, "bandPosition": 0.14}, "y": {"field": "level", "type": "quantitative", "axis": null}}},
            {"data": {"name": "sd"}, "transform": [{"filter": "datum.site === 'Punta Salinas' && datum.stage === 'Juveniles'"}], "mark": {"type": "tick", "orient": "vertical", "color": "#8c8c8c", "thickness": 1.2, "size": 4, "yOffset": -2}, "encoding": {"x": {"field": "mid", "type": "ordinal", "title": null}, "y": {"field": "level", "type": "quantitative", "axis": null}}},
            {"data": {"name": "sd"}, "transform": [{"filter": "datum.site === 'Punta Salinas' && datum.stage === 'Juveniles'"}], "mark": {"type": "text", "color": "#8c8c8c", "fontSize": 15, "angle": -45, "align": "left", "baseline": "middle", "dx": 4, "dy": -9}, "encoding": {"x": {"field": "mid", "type": "ordinal", "title": null}, "y": {"field": "level", "type": "quantitative", "axis": null}, "text": {"field": "label"}}}
          ]
        },
        {
          "width": 300, "height": 162,
          "title": {"text": "Adultos", "offset": -25, "dx": -34},
          "resolve": {"axis": {"y": "independent"}},
          "encoding": {"x": {"field": "month", "type": "ordinal", "title": null, "scale": {"domain": ["ene", "feb", "mar", "abr", "may", "jun", "jul", "ago"]}, "axis": {"labelPadding": 14}}},
          "layer": [
            {"data": {"name": "obs"}, "transform": [{"filter": "datum.site === 'Punta Salinas' && datum.stage === 'Adultos'"}], "mark": {"type": "rule", "strokeWidth": 2}, "encoding": {"y": {"field": "lo", "type": "quantitative", "title": "ind/m²", "scale": {"domain": [0, 20], "nice": false}, "axis": {"orient": "left", "values": [0, 5, 10, 15, 20]}}, "y2": {"field": "hi"}}},
            {"data": {"name": "obs"}, "transform": [{"filter": "datum.site === 'Punta Salinas' && datum.stage === 'Adultos'"}], "mark": {"type": "tick", "thickness": 2, "size": 7}, "encoding": {"y": {"field": "hi", "type": "quantitative", "axis": null}}},
            {"data": {"name": "obs"}, "transform": [{"filter": "datum.site === 'Punta Salinas' && datum.stage === 'Adultos' && datum.lo > 0"}], "mark": {"type": "tick", "thickness": 2, "size": 7}, "encoding": {"y": {"field": "lo", "type": "quantitative", "axis": null}}},
            {"data": {"name": "obs"}, "transform": [{"filter": "datum.site === 'Punta Salinas' && datum.stage === 'Adultos'"}], "mark": {"type": "point", "filled": true, "color": "#000000", "opacity": 1, "size": 16}, "encoding": {"y": {"field": "mean", "type": "quantitative", "axis": {"orient": "left", "title": null, "labels": false, "domain": false, "tickSize": 3, "tickColor": "#c4c4c4", "values": [1,2,3,4,6,7,8,9,11,12,13,14,16,17,18,19]}}}},
            {"data": {"name": "sd"}, "transform": [{"filter": "datum.site === 'Punta Salinas' && datum.stage === 'Adultos'"}], "mark": {"type": "rule", "color": "#8c8c8c", "strokeWidth": 1.2}, "encoding": {"x": {"field": "from", "type": "ordinal", "title": null, "bandPosition": 0.14}, "x2": {"field": "to", "bandPosition": 0.97}, "y": {"field": "level", "type": "quantitative", "axis": null}}},
            {"data": {"name": "sd"}, "transform": [{"filter": "datum.site === 'Punta Salinas' && datum.stage === 'Adultos'"}], "mark": {"type": "tick", "orient": "vertical", "color": "#8c8c8c", "thickness": 1.2, "size": 8, "yOffset": 4}, "encoding": {"x": {"field": "from", "type": "ordinal", "title": null, "bandPosition": 0.14}, "y": {"field": "level", "type": "quantitative", "axis": null}}},
            {"data": {"name": "sd"}, "transform": [{"filter": "datum.site === 'Punta Salinas' && datum.stage === 'Adultos'"}], "mark": {"type": "tick", "orient": "vertical", "color": "#8c8c8c", "thickness": 1.2, "size": 8, "yOffset": 4}, "encoding": {"x": {"field": "to", "type": "ordinal", "title": null, "bandPosition": 0.97}, "y": {"field": "level", "type": "quantitative", "axis": null}}},
            {"data": {"name": "sd"}, "transform": [{"filter": "datum.site === 'Punta Salinas' && datum.stage === 'Adultos'"}], "mark": {"type": "tick", "orient": "vertical", "color": "#8c8c8c", "thickness": 1.2, "size": 8, "yOffset": -4}, "encoding": {"x": {"field": "mid", "type": "ordinal", "title": null}, "y": {"field": "level", "type": "quantitative", "axis": null}}},
            {"data": {"name": "sd"}, "transform": [{"filter": "datum.site === 'Punta Salinas' && datum.stage === 'Adultos'"}], "mark": {"type": "text", "color": "#8c8c8c", "fontSize": 15, "angle": -45, "align": "left", "baseline": "middle", "dx": 4, "dy": -13}, "encoding": {"x": {"field": "mid", "type": "ordinal", "title": null}, "y": {"field": "level", "type": "quantitative", "axis": null}, "text": {"field": "label"}}}
          ]
        },
        {
          "width": 300, "height": 162,
          "title": {"text": "Adultos TMLC", "offset": -25, "dx": -30},
          "resolve": {"axis": {"y": "independent"}},
          "encoding": {"x": {"field": "month", "type": "ordinal", "title": null, "scale": {"domain": ["ene", "feb", "mar", "abr", "may", "jun", "jul", "ago"]}, "axis": {"labelFontSize": 16.5}}},
          "layer": [
            {"data": {"name": "obs"}, "transform": [{"filter": "datum.site === 'Punta Salinas' && datum.stage === 'Adultos TMLC'"}], "mark": {"type": "rule", "strokeWidth": 1.2}, "encoding": {"y": {"field": "lo", "type": "quantitative", "title": "ind/m²", "scale": {"domain": [0, 10], "nice": false}, "axis": {"orient": "left", "values": [0, 2, 4, 6, 8, 10]}}, "y2": {"field": "hi"}}},
            {"data": {"name": "obs"}, "transform": [{"filter": "datum.site === 'Punta Salinas' && datum.stage === 'Adultos TMLC'"}], "mark": {"type": "tick", "thickness": 1.2, "size": 7}, "encoding": {"y": {"field": "hi", "type": "quantitative", "axis": null}}},
            {"data": {"name": "obs"}, "transform": [{"filter": "datum.site === 'Punta Salinas' && datum.stage === 'Adultos TMLC' && datum.lo > 0"}], "mark": {"type": "tick", "thickness": 1.2, "size": 7}, "encoding": {"y": {"field": "lo", "type": "quantitative", "axis": null}}},
            {"data": {"name": "obs"}, "transform": [{"filter": "datum.site === 'Punta Salinas' && datum.stage === 'Adultos TMLC'"}], "mark": {"type": "point", "filled": true, "color": "#000000", "opacity": 1, "size": 16}, "encoding": {"y": {"field": "mean", "type": "quantitative", "axis": {"orient": "left", "title": null, "labels": false, "domain": false, "tickSize": 3, "tickColor": "#c4c4c4", "values": [0.4,0.8,1.2,1.6,2.4,2.8,3.2,3.6,4.4,4.8,5.2,5.6,6.4,6.8,7.2,7.6,8.4,8.8,9.2,9.6]}}}},
            {"data": {"name": "sd"}, "transform": [{"filter": "datum.site === 'Punta Salinas' && datum.stage === 'Adultos TMLC'"}], "mark": {"type": "rule", "color": "#8c8c8c", "strokeWidth": 1.2}, "encoding": {"x": {"field": "from", "type": "ordinal", "title": null, "bandPosition": 0.14}, "x2": {"field": "to", "bandPosition": 1}, "y": {"field": "level", "type": "quantitative", "axis": null}}},
            {"data": {"name": "sd"}, "transform": [{"filter": "datum.site === 'Punta Salinas' && datum.stage === 'Adultos TMLC'"}], "mark": {"type": "tick", "orient": "vertical", "color": "#8c8c8c", "thickness": 1.2, "size": 6, "yOffset": 3}, "encoding": {"x": {"field": "from", "type": "ordinal", "title": null, "bandPosition": 0.14}, "y": {"field": "level", "type": "quantitative", "axis": null}}},
            {"data": {"name": "sd"}, "transform": [{"filter": "datum.site === 'Punta Salinas' && datum.stage === 'Adultos TMLC'"}], "mark": {"type": "tick", "orient": "vertical", "color": "#8c8c8c", "thickness": 1.2, "size": 4, "yOffset": -2}, "encoding": {"x": {"field": "mid", "type": "ordinal", "title": null}, "y": {"field": "level", "type": "quantitative", "axis": null}}},
            {"data": {"name": "sd"}, "transform": [{"filter": "datum.site === 'Punta Salinas' && datum.stage === 'Adultos TMLC'"}], "mark": {"type": "text", "color": "#8c8c8c", "fontSize": 15, "angle": -45, "align": "left", "baseline": "middle", "dx": 4, "dy": -9}, "encoding": {"x": {"field": "mid", "type": "ordinal", "title": null}, "y": {"field": "level", "type": "quantitative", "axis": null}, "text": {"field": "label"}}}
          ]
        }
      ]
    }
  ]
}
